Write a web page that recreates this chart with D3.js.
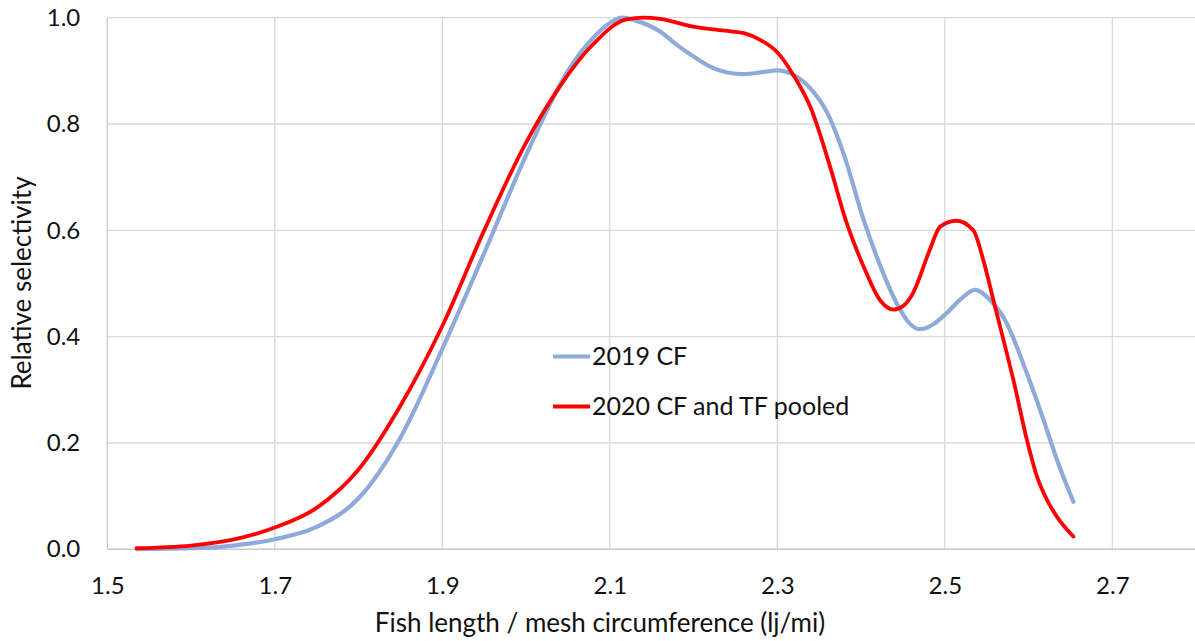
<!DOCTYPE html>
<html>
<head>
<meta charset="utf-8">
<script src="https://cdn.jsdelivr.net/npm/d3@7"></script>
<style>
  html, body { margin: 0; padding: 0; background: #fff; }
  svg { display: block; font-family: Lato, "Open Sans", sans-serif; }
</style>
</head>
<body>
<svg id="chart" width="1195" height="641"></svg>
<script>
// Selectivity curves: fish length / mesh circumference vs relative selectivity
const xTicks = [1.5, 1.7, 1.9, 2.1, 2.3, 2.5, 2.7];
const yTicks = [0.0, 0.2, 0.4, 0.6, 0.8, 1.0];

const seriesNames = ["2019 CF", "2020 CF and TF pooled"];

const x2019 = [1.535, 1.6, 1.65, 1.7, 1.75, 1.8, 1.85, 1.9, 1.95, 2.0, 2.05, 2.08, 2.1, 2.115, 2.13, 2.16, 2.18, 2.2, 2.22, 2.24, 2.26, 2.28, 2.3, 2.32, 2.34, 2.36, 2.38, 2.403, 2.4225, 2.4425, 2.458, 2.47, 2.485, 2.502, 2.518, 2.536, 2.554, 2.574, 2.586, 2.598, 2.618, 2.634, 2.6535];
const y2019 = [0.0005, 0.002, 0.007, 0.019, 0.042, 0.096, 0.21, 0.377, 0.557, 0.741, 0.9, 0.962, 0.99, 1.0, 0.995, 0.974, 0.949, 0.927, 0.908, 0.897, 0.894, 0.897, 0.901, 0.892, 0.866, 0.82, 0.74, 0.62, 0.535, 0.463, 0.425, 0.414, 0.422, 0.444, 0.469, 0.488, 0.469, 0.425, 0.381, 0.331, 0.243, 0.168, 0.0895];

const x2020 = [1.535, 1.6, 1.65, 1.7, 1.75, 1.8, 1.85, 1.9, 1.95, 2.0, 2.04, 2.08, 2.12, 2.14, 2.16, 2.2, 2.24, 2.26, 2.28, 2.3, 2.32, 2.34, 2.362, 2.383, 2.403, 2.4225, 2.4385, 2.452, 2.462, 2.482, 2.4945, 2.514, 2.534, 2.546, 2.558, 2.57, 2.582, 2.598, 2.61, 2.622, 2.634, 2.6535];
const y2020 = [0.002, 0.007, 0.018, 0.041, 0.078, 0.15, 0.27, 0.42, 0.6, 0.765, 0.87, 0.95, 0.997, 1.0, 0.998, 0.983, 0.975, 0.971, 0.958, 0.935, 0.89, 0.83, 0.725, 0.613, 0.532, 0.469, 0.451, 0.46, 0.482, 0.563, 0.607, 0.618, 0.6, 0.544, 0.469, 0.394, 0.318, 0.206, 0.137, 0.093, 0.061, 0.024];

const colors = ["#8eaadb", "#ff0000"];

const svg = d3.select("#chart");

const x = d3.scaleLinear().domain([1.5, 2.8]).range([107.3, 107.3 + 837.5 * 1.3]);
const y = d3.scaleLinear().domain([0, 1]).range([549.3, 17.7]);

// gridlines
const grid = svg.append("g").attr("stroke", "#d9d9d9").attr("stroke-width", 1.3);
grid.selectAll("line.v").data(xTicks.slice(1)).join("line")
  .attr("x1", d => x(d)).attr("x2", d => x(d))
  .attr("y1", y(1)).attr("y2", y(0));
grid.selectAll("line.h").data(yTicks.slice(1)).join("line")
  .attr("x1", x(1.5)).attr("x2", x(2.8))
  .attr("y1", d => y(d)).attr("y2", d => y(d));

// axes frame lines
svg.append("line").attr("x1", x(1.5)).attr("x2", x(1.5)).attr("y1", y(1)).attr("y2", y(0))
  .attr("stroke", "#c8c8c8").attr("stroke-width", 1.3);
svg.append("line").attr("x1", x(1.5)).attr("x2", x(2.8)).attr("y1", y(0)).attr("y2", y(0))
  .attr("stroke", "#c8c8c8").attr("stroke-width", 1.5);

// tick labels via axis generators
const xAxis = svg.append("g").attr("transform", `translate(0,${y(0)})`)
  .call(d3.axisBottom(x).tickValues(xTicks).tickFormat(d3.format(".1f")).tickSize(0).tickPadding(28));
const yAxis = svg.append("g").attr("transform", `translate(${x(1.5)},0)`)
  .call(d3.axisLeft(y).tickValues(yTicks).tickFormat(d3.format(".1f")).tickSize(0).tickPadding(27));
[xAxis, yAxis].forEach(g => {
  g.select(".domain").remove();
  g.selectAll("text").attr("font-family", "Lato, 'Open Sans', sans-serif")
    .attr("font-size", 24).attr("fill", "#111");
});

// axis titles
svg.append("text").attr("x", 600).attr("y", 632).attr("text-anchor", "middle")
  .attr("font-size", 26).attr("fill", "#111")
  .text("Fish length / mesh circumference (lj/mi)");
svg.append("text").attr("transform", "translate(31,283) rotate(-90)").attr("text-anchor", "middle")
  .attr("font-size", 26).attr("fill", "#111")
  .text("Relative selectivity");

// curves
const line = d3.line().x(d => x(d[0])).y(d => y(d[1])).curve(d3.curveMonotoneX);
const series = [d3.zip(x2019, y2019), d3.zip(x2020, y2020)];
svg.selectAll("path.curve").data(series).join("path")
  .attr("class", "curve")
  .attr("d", line)
  .attr("fill", "none")
  .attr("stroke", (d, i) => colors[i])
  .attr("stroke-width", (d, i) => i === 0 ? 4.2 : 3.8)
  .attr("stroke-linecap", "round")
  .attr("stroke-linejoin", "round");

// legend
const legend = svg.append("g");
const legendY = [356.5, 406.5];
seriesNames.forEach((name, i) => {
  legend.append("line").attr("x1", 553).attr("x2", 590)
    .attr("y1", legendY[i]).attr("y2", legendY[i])
    .attr("stroke", colors[i]).attr("stroke-width", i === 0 ? 4.2 : 3.8);
  legend.append("text").attr("x", 592).attr("y", legendY[i]).attr("dy", "0.35em")
    .attr("font-size", 25).attr("fill", "#111").text(name);
});
</script>
</body>
</html>
